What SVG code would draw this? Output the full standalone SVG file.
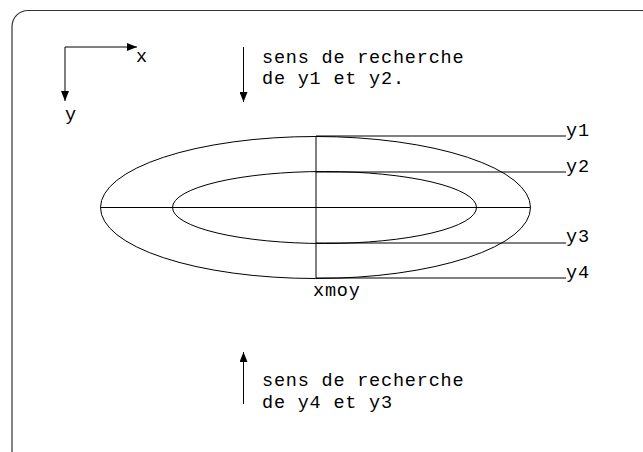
<svg xmlns="http://www.w3.org/2000/svg" width="643" height="452" viewBox="0 0 643 452">
<style>
.t{font-family:"Liberation Mono","Courier New",monospace;font-size:18.5px;letter-spacing:0.8px;fill:#000}
.l{stroke:#000;stroke-width:1;fill:none}
</style>
<defs>
<marker id="ah" markerWidth="10" markerHeight="8" refX="10" refY="4" orient="auto" markerUnits="userSpaceOnUse">
<path d="M0,0 L10,4 L0,8 Z" fill="#000"/>
</marker>
</defs>
<rect width="643" height="452" fill="#fff"/>
<rect id="frame" x="12" y="10.5" width="646" height="456" rx="16" ry="16" fill="none" stroke="#333" stroke-width="1.2"/>
<g id="axes">
<path class="l" d="M65,47 L137,47" marker-end="url(#ah)"/>
<path class="l" d="M65,47 L65,101" marker-end="url(#ah)"/>
<text class="t" x="136" y="62">x</text>
<text class="t" x="65" y="120">y</text>
</g>
<g id="ellipses">
<ellipse class="l" cx="315.5" cy="207.5" rx="215" ry="71"/>
<ellipse class="l" cx="324.5" cy="207.5" rx="152" ry="36"/>
</g>
<g id="connectors">
<line class="l" x1="100.5" y1="207.5" x2="530.5" y2="207.5"/>
<line class="l" x1="316" y1="136" x2="316" y2="278"/>
<line class="l" x1="316" y1="136" x2="566" y2="136"/>
<line class="l" x1="316" y1="172" x2="566" y2="172"/>
<line class="l" x1="316" y1="243" x2="566" y2="243"/>
<line class="l" x1="316" y1="278" x2="566" y2="278"/>
<line class="l" x1="243.5" y1="47" x2="243.5" y2="102" marker-end="url(#ah)"/>
<line class="l" x1="243.5" y1="404" x2="243.5" y2="352" marker-end="url(#ah)"/>
</g>
<g id="labels">
<text class="t" x="566" y="136">y1</text>
<text class="t" x="566" y="172">y2</text>
<text class="t" x="566" y="242">y3</text>
<text class="t" x="566" y="278">y4</text>
<text class="t" x="313" y="296">xmoy</text>
</g>
<g id="note-top">
<text class="t" x="262" y="63">sens de recherche</text>
<text class="t" x="262" y="84">de y1 et y2.</text>
</g>
<g id="note-bottom">
<text class="t" x="262" y="386">sens de recherche</text>
<text class="t" x="262" y="408">de y4 et y3</text>
</g>
</svg>
